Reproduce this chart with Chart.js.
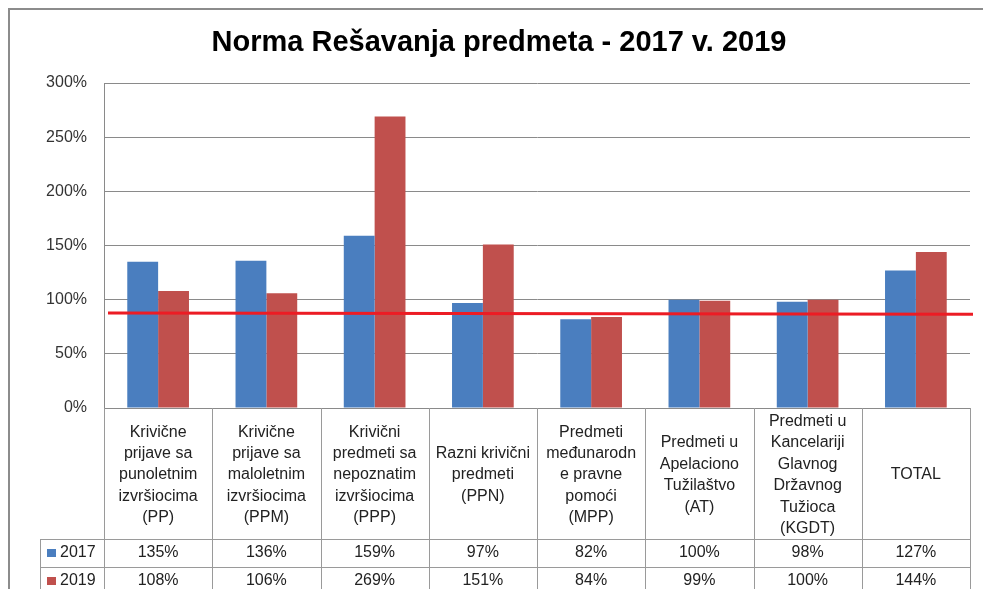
<!DOCTYPE html>
<html>
<head>
<meta charset="utf-8">
<script src="https://cdn.jsdelivr.net/npm/chart.js@4.4.1/dist/chart.umd.min.js"></script>
<style>
  html, body { margin: 0; padding: 0; background: #fff; }
  #wrap { width: 983px; height: 589px; position: relative; }
</style>
</head>
<body>
<div id="wrap"><canvas id="chart"></canvas></div>
<script>
// category labels, already broken into lines as in the table header
const categories = [
  ['Krivične', 'prijave sa', 'punoletnim', 'izvršiocima', '(PP)'],
  ['Krivične', 'prijave sa', 'maloletnim', 'izvršiocima', '(PPM)'],
  ['Krivični', 'predmeti sa', 'nepoznatim', 'izvršiocima', '(PPP)'],
  ['Razni krivični', 'predmeti', '(PPN)'],
  ['Predmeti', 'međunarodn', 'e pravne', 'pomoći', '(MPP)'],
  ['Predmeti u', 'Apelaciono', 'Tužilaštvo', '(AT)'],
  ['Predmeti u', 'Kancelariji', 'Glavnog', 'Državnog', 'Tužioca', '(KGDT)'],
  ['TOTAL']
];
const values2017 = [135, 136, 159, 97, 82, 100, 98, 127];
const values2019 = [108, 106, 269, 151, 84, 99, 100, 144];
const seriesNames = ['2017', '2019'];
// hand drawn red reference line, value at its left and right end
const redLine = [87.7, 86.5];
const yTicks = { min: 0, max: 300, step: 50 };

const FONT = "'Liberation Sans', Arial, sans-serif";
const BLUE = '#4a7ebf';
const RED = '#c0504d';
const LINE = '#9a9a9a';

// draws the outer frame, the red line and the data table under the axis
const tablePlugin = {
  id: 'tablePlugin',
  beforeDraw(chart) {
    const ctx = chart.ctx;
    ctx.save();
    ctx.strokeStyle = '#8c8c8c';
    ctx.lineWidth = 2;
    ctx.beginPath();
    ctx.moveTo(9, chart.height);
    ctx.lineTo(9, 9);
    ctx.lineTo(chart.width, 9);
    ctx.stroke();
    ctx.restore();
  },
  afterDatasetsDraw(chart) {
    const ctx = chart.ctx;
    const a = chart.chartArea;
    const y = chart.scales.y;
    ctx.save();
    ctx.strokeStyle = '#ec1c24';
    ctx.lineWidth = 3;
    ctx.beginPath();
    ctx.moveTo(a.left + 4, y.getPixelForValue(redLine[0]));
    ctx.lineTo(a.right + 3, y.getPixelForValue(redLine[1]));
    ctx.stroke();
    ctx.restore();
  },
  afterDraw(chart) {
    const ctx = chart.ctx;
    const a = chart.chartArea;
    const n = categories.length;
    const colW = (a.right - a.left) / n;
    const headBottom = a.bottom + 131;
    const rowH = 28;
    const legLeft = a.left - 64;
    const rows = [values2017, values2019];
    const colors = [BLUE, RED];

    ctx.save();
    ctx.strokeStyle = LINE;
    ctx.lineWidth = 1;
    ctx.beginPath();
    for (let i = 0; i <= n; i++) {
      const x = Math.round(a.left + i * colW) + 0.5;
      ctx.moveTo(x, a.bottom);
      ctx.lineTo(x, headBottom + rowH * 2);
    }
    for (let r = 0; r <= 2; r++) {
      const yy = headBottom + r * rowH + 0.5;
      ctx.moveTo(legLeft, yy);
      ctx.lineTo(a.right, yy);
    }
    ctx.moveTo(legLeft + 0.5, headBottom);
    ctx.lineTo(legLeft + 0.5, headBottom + rowH * 2);
    ctx.stroke();

    ctx.fillStyle = '#222';
    ctx.font = '16px ' + FONT;
    ctx.textAlign = 'center';
    ctx.textBaseline = 'middle';
    const lh = 21.4;
    const headMid = a.bottom + 67;
    categories.forEach((lines, i) => {
      const cx = a.left + (i + 0.5) * colW;
      const y0 = headMid - (lines.length - 1) * lh / 2;
      lines.forEach((t, k) => ctx.fillText(t, cx, y0 + k * lh));
    });

    rows.forEach((vals, r) => {
      const cy = headBottom + r * rowH + rowH / 2;
      ctx.fillStyle = colors[r];
      ctx.fillRect(legLeft + 7, cy - 4, 9, 8);
      ctx.fillStyle = '#222';
      ctx.textAlign = 'left';
      ctx.fillText(seriesNames[r], legLeft + 20, cy);
      ctx.textAlign = 'center';
      vals.forEach((v, i) => {
        ctx.fillText(v + '%', a.left + (i + 0.5) * colW, cy);
      });
    });
    ctx.restore();
  }
};

new Chart(document.getElementById('chart'), {
  type: 'bar',
  data: {
    labels: categories,
    datasets: [
      { label: seriesNames[0], data: values2017, backgroundColor: BLUE, categoryPercentage: 0.57, barPercentage: 1 },
      { label: seriesNames[1], data: values2019, backgroundColor: RED, categoryPercentage: 0.57, barPercentage: 1 }
    ]
  },
  options: {
    responsive: true,
    maintainAspectRatio: false,
    animation: false,
    layout: { padding: { left: 28, right: 13, top: 0, bottom: 0 } },
    plugins: {
      legend: { display: false },
      tooltip: { enabled: false },
      title: {
        display: true,
        text: 'Norma Rešavanja predmeta - 2017 v. 2019',
        color: '#000',
        font: { family: FONT, size: 29, weight: 'bold', lineHeight: 1.2 },
        padding: { top: 25.6, bottom: 22.6 }
      }
    },
    scales: {
      x: {
        grid: { display: false },
        border: { display: false },
        ticks: { display: false },
        afterFit(s) { s.height = 181; }
      },
      y: {
        min: yTicks.min,
        max: yTicks.max,
        ticks: {
          stepSize: yTicks.step,
          padding: 17,
          color: '#333',
          font: { family: FONT, size: 16 },
          callback: v => v + '%'
        },
        grid: { color: '#8a8a8a', drawTicks: false },
        border: { color: '#8a8a8a' },
        afterFit(s) { s.width = 76; }
      }
    }
  },
  plugins: [tablePlugin]
});
</script>
</body>
</html>
